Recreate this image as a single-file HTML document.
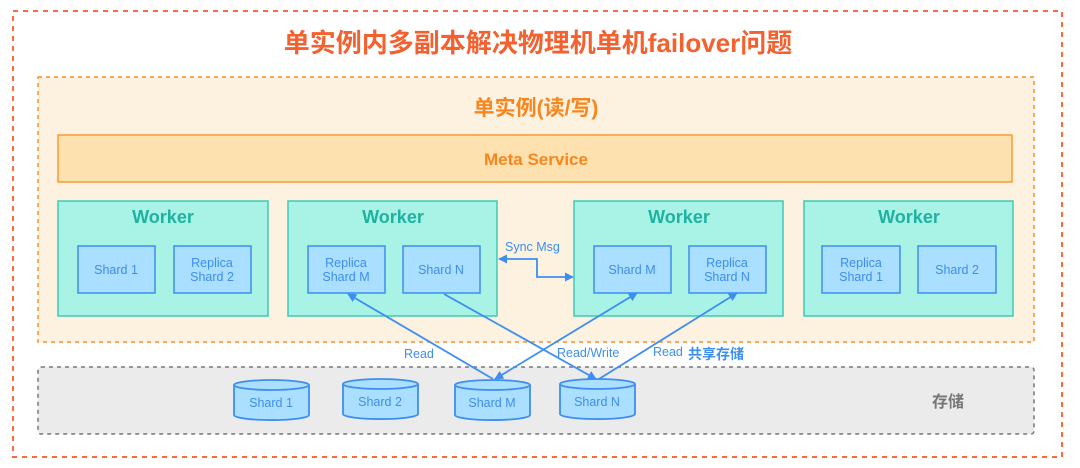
<!DOCTYPE html>
<html><head><meta charset="utf-8"><style>
html,body{margin:0;padding:0;background:#fff;}
svg{display:block;}
text{font-family:"Liberation Sans","Noto Sans CJK SC",sans-serif;}
</style></head><body>
<svg width="1080" height="468" viewBox="0 0 1080 468" xmlns="http://www.w3.org/2000/svg">
<defs>
<marker id="ah" viewBox="0 0 10 10" refX="9" refY="5" markerWidth="9" markerHeight="9" orient="auto-start-reverse" markerUnits="userSpaceOnUse">
<path d="M0,0 L10,5 L0,10 z" fill="#3d8ef0"/></marker>
</defs>
<rect x="13" y="11" width="1049" height="446" fill="none" stroke="#fb6a3c" stroke-width="2" stroke-dasharray="5,5"/>
<text x="538" y="52" text-anchor="middle" font-size="26" font-weight="bold" fill="#f5602f">单实例内多副本解决物理机单机failover问题</text>
<rect x="38" y="77" width="996" height="265" fill="#fdf1df" stroke="#f98f2c" stroke-width="1.5" stroke-dasharray="4,4"/>
<text x="536" y="115" text-anchor="middle" font-size="21" font-weight="bold" fill="#f7861e">单实例(读/写)</text>
<rect x="58" y="135" width="954" height="47" fill="#fde1af" stroke="#f99a34" stroke-width="1.5"/>
<text x="536" y="165" text-anchor="middle" font-size="17" font-weight="bold" fill="#f7861e">Meta Service</text>

<g font-size="12.5" fill="#3d8ef0" text-anchor="middle">
<g transform="translate(58,0)">
<rect x="0" y="201" width="210" height="115" fill="#a9f2e6" stroke="#3ccbb5" stroke-width="1.5"/>
<text x="105" y="223" font-size="18" font-weight="bold" fill="#1fb2a0">Worker</text>
<rect x="20" y="246" width="77" height="47" fill="#aadfff" stroke="#3d8ef0" stroke-width="1.5"/>
<rect x="116" y="246" width="77" height="47" fill="#aadfff" stroke="#3d8ef0" stroke-width="1.5"/>
<text x="58" y="274">Shard 1</text>
<text x="154" y="267">Replica</text><text x="154" y="281">Shard 2</text>
</g>
<g transform="translate(288,0)">
<rect x="0" y="201" width="209" height="115" fill="#a9f2e6" stroke="#3ccbb5" stroke-width="1.5"/>
<text x="105" y="223" font-size="18" font-weight="bold" fill="#1fb2a0">Worker</text>
<rect x="20" y="246" width="77" height="47" fill="#aadfff" stroke="#3d8ef0" stroke-width="1.5"/>
<rect x="115" y="246" width="77" height="47" fill="#aadfff" stroke="#3d8ef0" stroke-width="1.5"/>
<text x="58" y="267">Replica</text><text x="58" y="281">Shard M</text>
<text x="153" y="274">Shard N</text>
</g>
<g transform="translate(574,0)">
<rect x="0" y="201" width="209" height="115" fill="#a9f2e6" stroke="#3ccbb5" stroke-width="1.5"/>
<text x="105" y="223" font-size="18" font-weight="bold" fill="#1fb2a0">Worker</text>
<rect x="20" y="246" width="77" height="47" fill="#aadfff" stroke="#3d8ef0" stroke-width="1.5"/>
<rect x="115" y="246" width="77" height="47" fill="#aadfff" stroke="#3d8ef0" stroke-width="1.5"/>
<text x="58" y="274">Shard M</text>
<text x="153" y="267">Replica</text><text x="153" y="281">Shard N</text>
</g>
<g transform="translate(804,0)">
<rect x="0" y="201" width="209" height="115" fill="#a9f2e6" stroke="#3ccbb5" stroke-width="1.5"/>
<text x="105" y="223" font-size="18" font-weight="bold" fill="#1fb2a0">Worker</text>
<rect x="18" y="246" width="78" height="47" fill="#aadfff" stroke="#3d8ef0" stroke-width="1.5"/>
<rect x="114" y="246" width="78" height="47" fill="#aadfff" stroke="#3d8ef0" stroke-width="1.5"/>
<text x="57" y="267">Replica</text><text x="57" y="281">Shard 1</text>
<text x="153" y="274">Shard 2</text>
</g>
</g>

<rect x="38" y="367" width="996" height="67" rx="3" fill="#ebebeb" stroke="#777" stroke-width="1.5" stroke-dasharray="4,4"/>
<text x="948" y="407" text-anchor="middle" font-size="16" font-weight="bold" fill="#777">存储</text>

<g fill="#aadfff" stroke="#3d8ef0" stroke-width="1.8">
<path d="M234,385 v30 a37,5 0 0 0 75,0 v-30"/><ellipse cx="271.5" cy="385" rx="37.5" ry="5"/>
<path d="M343,384 v30 a37,5 0 0 0 75,0 v-30"/><ellipse cx="380.5" cy="384" rx="37.5" ry="5"/>
<path d="M455,385 v30 a37,5 0 0 0 75,0 v-30"/><ellipse cx="492.5" cy="385" rx="37.5" ry="5"/>
<path d="M560,384 v30 a37,5 0 0 0 75,0 v-30"/><ellipse cx="597.5" cy="384" rx="37.5" ry="5"/>
</g>
<g font-size="12.5" fill="#3d8ef0" text-anchor="middle">
<text x="271" y="407">Shard 1</text>
<text x="380" y="406">Shard 2</text>
<text x="492" y="407">Shard M</text>
<text x="597" y="406">Shard N</text>
</g>

<g stroke="#3d8ef0" stroke-width="1.8" fill="none">
<line x1="493" y1="379" x2="348" y2="294" marker-end="url(#ah)"/>
<line x1="596" y1="379" x2="444" y2="294" marker-start="url(#ah)"/>
<line x1="495" y1="379" x2="637" y2="293" marker-start="url(#ah)" marker-end="url(#ah)"/>
<line x1="599" y1="379" x2="737" y2="293" marker-end="url(#ah)"/>
<polyline points="499,259 537,259 537,277 573,277" marker-start="url(#ah)" marker-end="url(#ah)"/>
</g>
<g font-size="12.5" fill="#3d8ef0">
<text x="505" y="251">Sync Msg</text>
<text x="404" y="358">Read</text>
<text x="557" y="357">Read/Write</text>
<text x="653" y="356">Read</text>
</g>
<text x="688" y="359" font-size="14" font-weight="bold" fill="#3d8ef0">共享存储</text>
</svg>
</body></html>
